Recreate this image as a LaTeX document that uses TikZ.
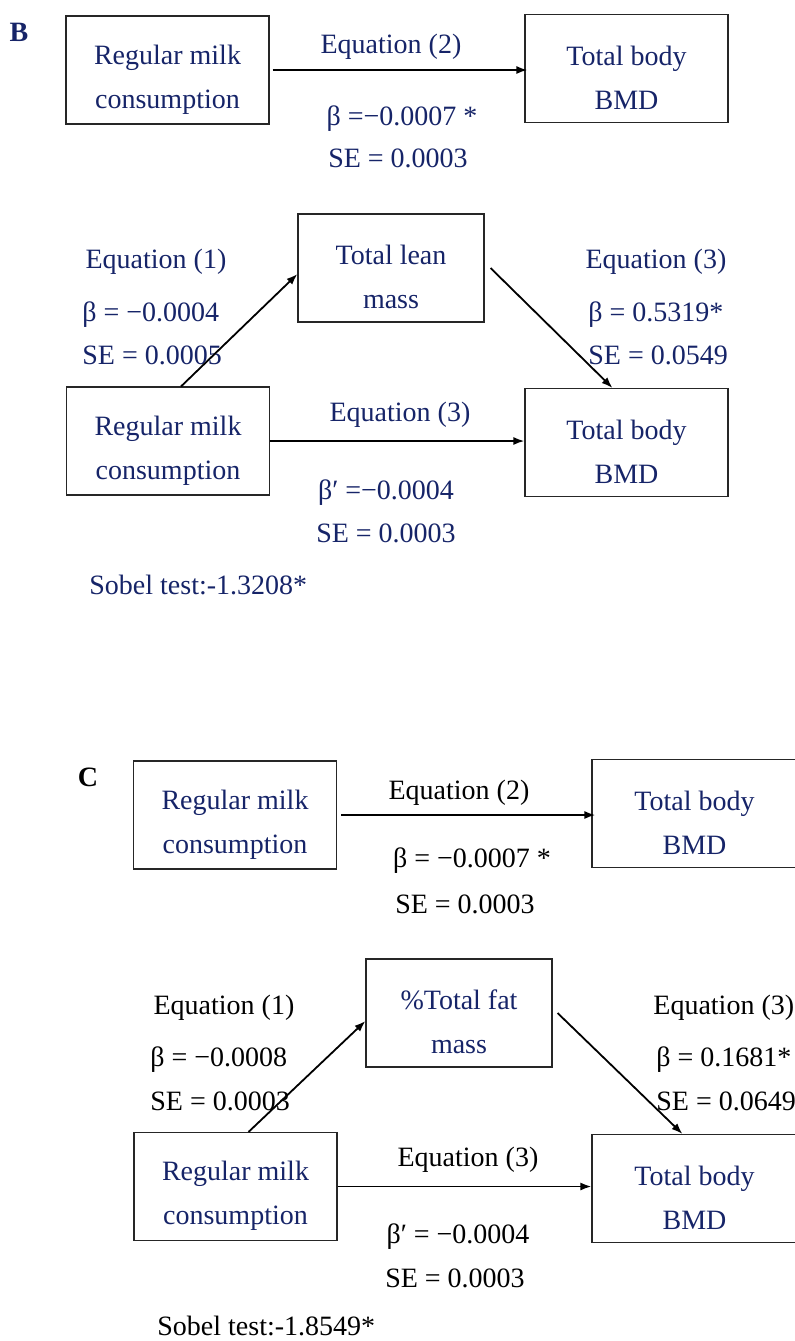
\documentclass[tikz,border=0pt]{standalone}
\usepackage{fontspec}
\setmainfont{Liberation Serif}
\usepackage{tikz}
\usetikzlibrary{arrows.meta}
\definecolor{navy}{RGB}{22,36,104}
\tikzstyle{box}=[rectangle,
draw=black!85,
line width=0.55pt,
minimum width=101.5pt,
minimum height=54pt,
inner sep=0pt,
align=center,
text=navy]
\tikzstyle{lbl}=[inner sep=0pt,
yshift=-2pt,
text height=1.5ex,
text depth=0.25ex]
\tikzstyle{link}=[line width=0.9pt]
% two centred lines, set a little lower in the box
\newcommand{\twolines}[2]{\rule{0pt}{19pt}#1\\#2}

\begin{document}
\begin{tikzpicture}[>={Latex[length=5.5pt,width=4pt]},x=0.5pt,y=-0.5pt,font=\fontsize{14}{22}\selectfont]
	\useasboundingbox (0,0) rectangle (795,1341);

	% Panel B: total effect
	\node (labB)  [lbl,text=navy,font=\fontsize{14}{22}\selectfont\bfseries] at (19,32) {B};
	\node (milkA) [box] at (167.5,70) {\twolines{Regular milk}{consumption}};
	\node (bmdA)  [box] at (626.5,68.5) {\twolines{Total body}{BMD}};
	\node (eqA)   [lbl,text=navy] at (391,44) {Equation (2)};
	\node (betaA) [lbl,text=navy] at (402,116) {β =−0.0007 *};
	\node (seA)   [lbl,text=navy] at (398,158) {SE = 0.0003};

	% Panel B: mediation through lean mass
	\node (leanB) [box,minimum width=93pt] at (391,268) {\twolines{Total lean}{mass}};
	\node (milkB) [box] at (168,441) {\twolines{Regular milk}{consumption}};
	\node (bmdB)  [box] at (626.5,442.5) {\twolines{Total body}{BMD}};
	\node (eq1B)  [lbl,text=navy] at (156,259) {Equation (1)};
	\node (b1B)   [lbl,text=navy,anchor=west] at (82,312) {β = −0.0004};
	\node (se1B)  [lbl,text=navy,anchor=west] at (82,355) {SE = 0.0005};
	\node (eq3B)  [lbl,text=navy] at (656,259) {Equation (3)};
	\node (b3B)   [lbl,text=navy,anchor=west] at (588,312) {β = 0.5319*};
	\node (se3B)  [lbl,text=navy,anchor=west] at (588,355) {SE = 0.0549};
	\node (eqdB)  [lbl,text=navy] at (400,412) {Equation (3)};
	\node (bdB)   [lbl,text=navy] at (386,490) {β′ =−0.0004};
	\node (sedB)  [lbl,text=navy] at (386,533) {SE = 0.0003};
	\node (sobB)  [lbl,text=navy,anchor=west] at (89,585) {Sobel test:-1.3208*};

	% Panel C: total effect
	\node (labC)  [lbl,font=\fontsize{14}{22}\selectfont\bfseries] at (88,777) {C};
	\node (milkC) [box] at (235,815) {\twolines{Regular milk}{consumption}};
	\node (bmdC)  [box,minimum width=102.5pt] at (694.5,813.5) {\twolines{Total body}{BMD}};
	\node (eqC)   [lbl] at (459,790) {Equation (2)};
	\node (betaC) [lbl] at (472,858) {β = −0.0007 *};
	\node (seC)   [lbl] at (465,904) {SE = 0.0003};

	% Panel C: mediation through fat mass
	\node (fatD)  [box,minimum width=93pt] at (459,1013) {\twolines{\%Total fat}{mass}};
	\node (milkD) [box] at (235.5,1186.5) {\twolines{Regular milk}{consumption}};
	\node (bmdD)  [box,minimum width=102.5pt] at (694.5,1188.5) {\twolines{Total body}{BMD}};
	\node (eq1D)  [lbl] at (224,1005) {Equation (1)};
	\node (b1D)   [lbl,anchor=west] at (150,1057) {β = −0.0008};
	\node (se1D)  [lbl,anchor=west] at (150,1101) {SE = 0.0003};
	\node (eq3D)  [lbl,anchor=west] at (653,1005) {Equation (3)};
	\node (b3D)   [lbl,anchor=west] at (656,1057) {β = 0.1681*};
	\node (se3D)  [lbl,anchor=west] at (656,1101) {SE = 0.0649};
	\node (eqdD)  [lbl] at (468,1157) {Equation (3)};
	\node (bdD)   [lbl] at (458,1234) {β′ = −0.0004};
	\node (sedD)  [lbl] at (455,1278) {SE = 0.0003};
	\node (sobD)  [lbl,anchor=west] at (157,1326) {Sobel test:-1.8549*};

	% The arrows between the boxes
	\path[->,link]
	([xshift=1.5pt]milkA.east) edge ([xshift=1.5pt]milkA.east -| bmdA.west)
	([xshift=6.5pt]milkB.north) edge ([yshift=-3pt]leanB.west)
	([xshift=3pt]leanB.east) edge ([xshift=-7pt]bmdB.north)
	(milkB.east) edge (milkB.east -| bmdB.west)
	([xshift=2pt]milkC.east) edge ([xshift=2pt]milkC.east -| bmdC.west)
	([xshift=6.5pt]milkD.north) edge ([yshift=-4pt]fatD.west)
	([xshift=2.5pt]fatD.east) edge ([xshift=-6pt]bmdD.north)
	(milkD.east) edge (milkD.east -| bmdD.west)
	;
\end{tikzpicture}
\end{document}
